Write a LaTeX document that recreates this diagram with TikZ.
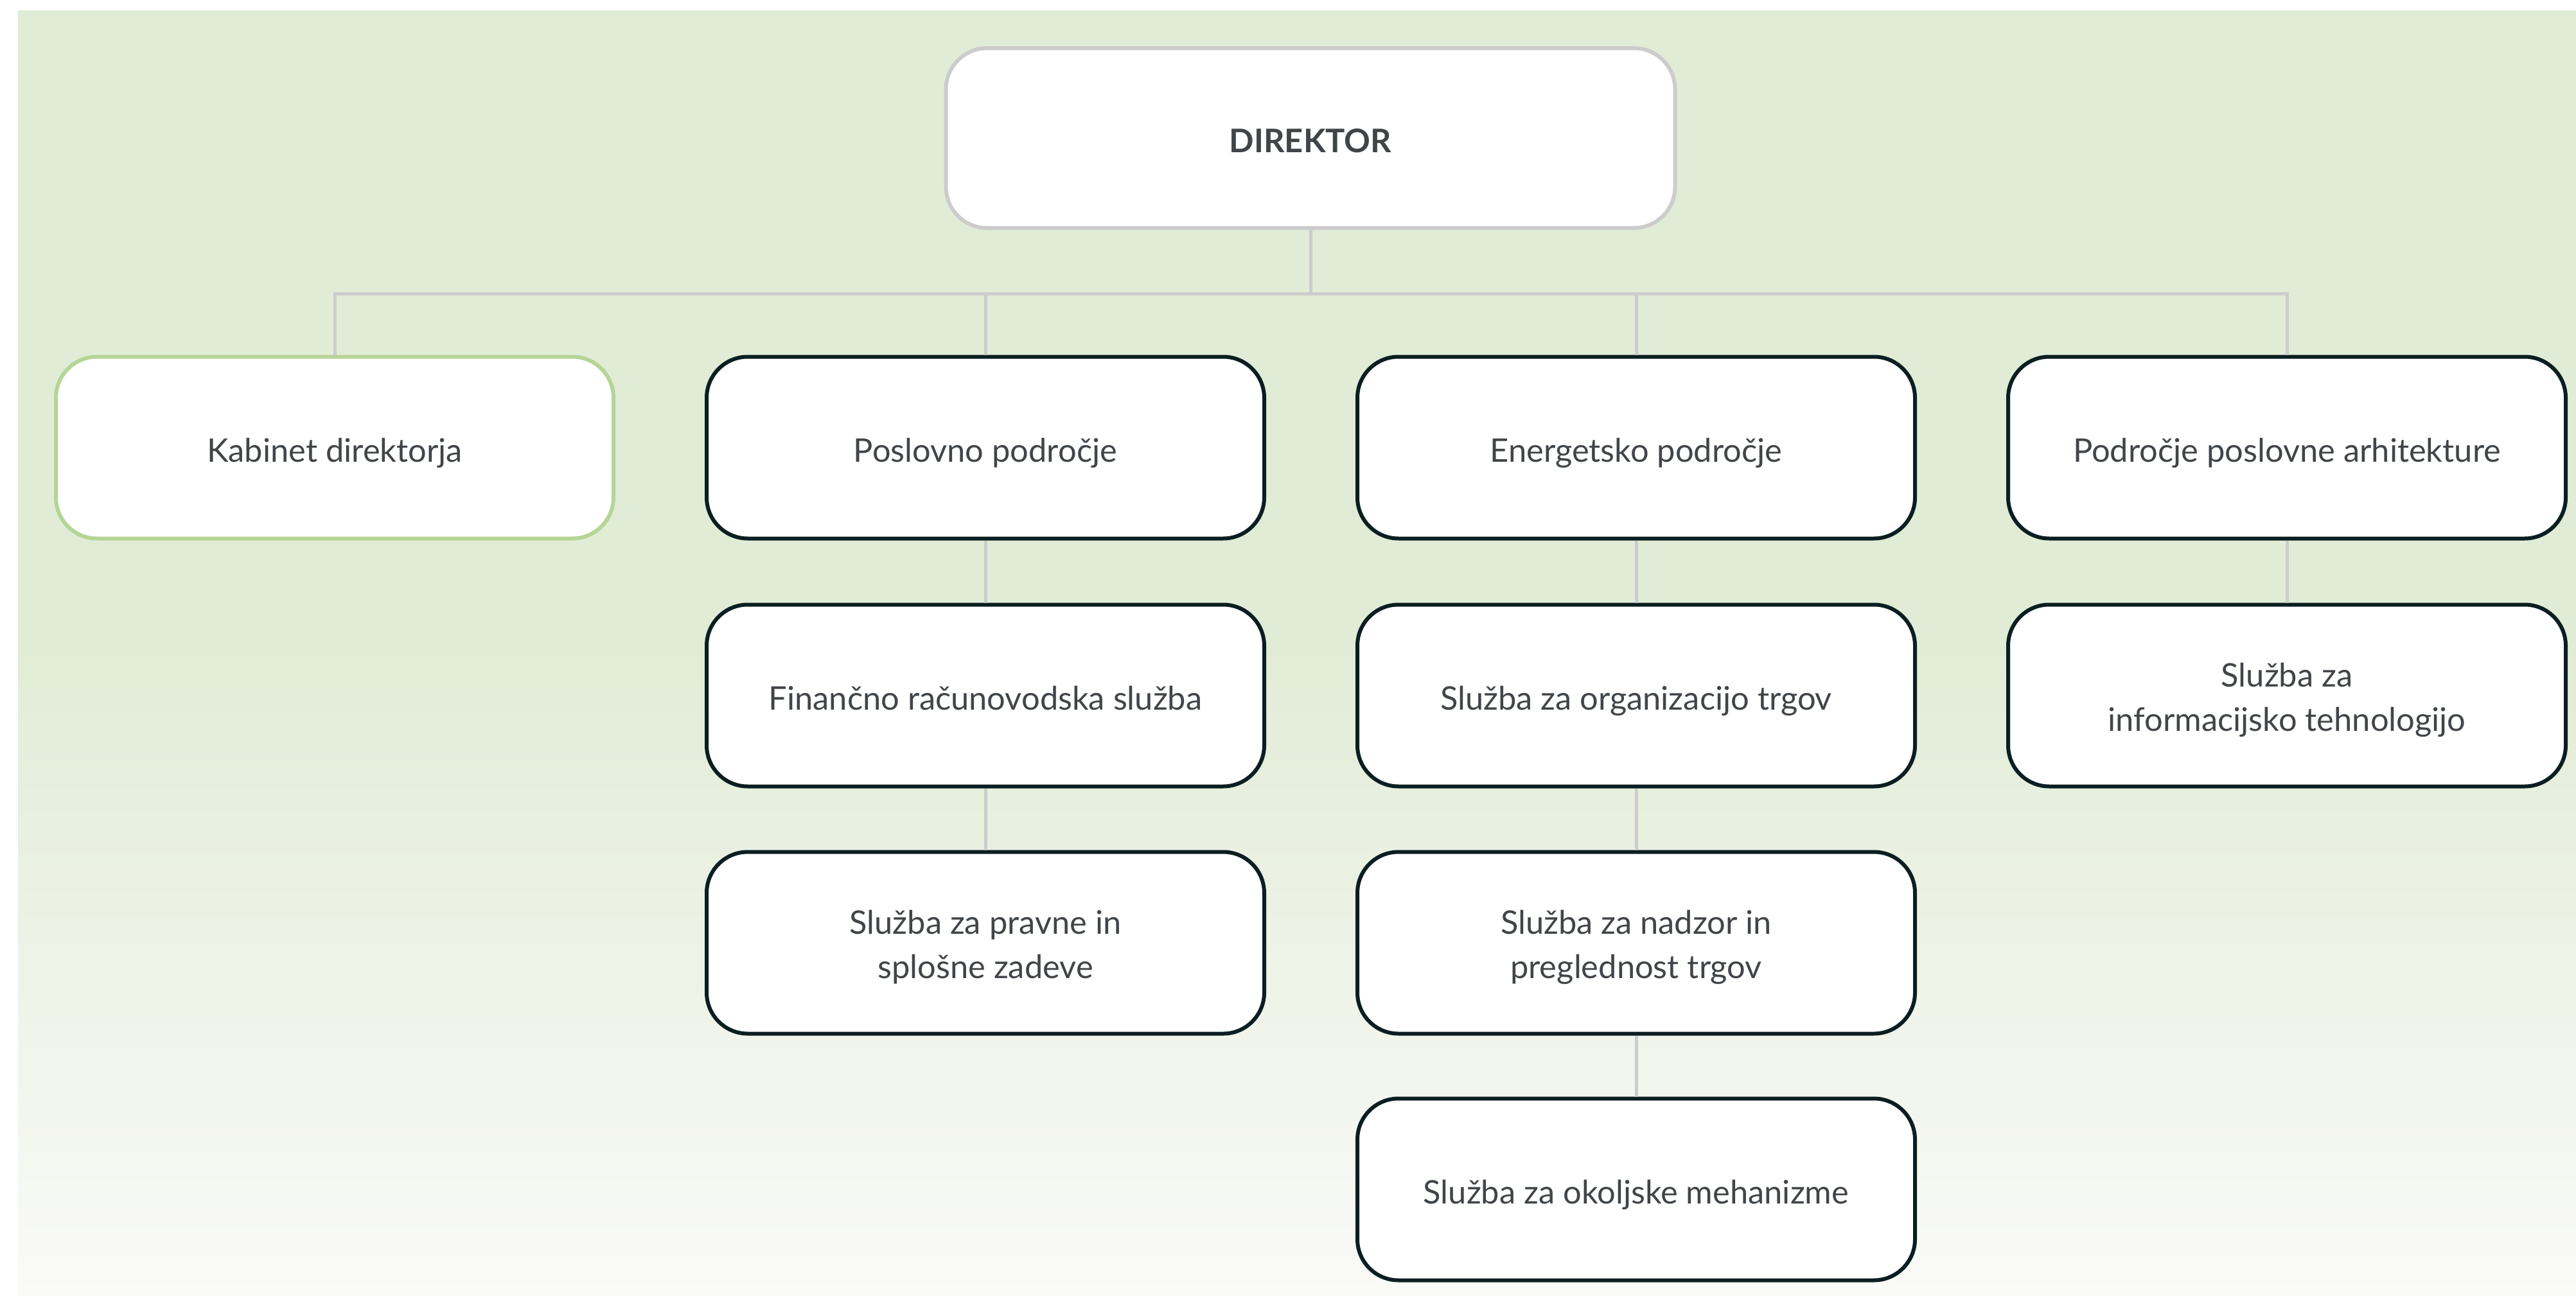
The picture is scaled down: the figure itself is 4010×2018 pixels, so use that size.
\documentclass[tikz,border=0pt]{standalone}
\usepackage{fontspec}
\setmainfont{Lato}
\definecolor{bgtop}{HTML}{E1ECD6}
\definecolor{bgbot}{HTML}{FAFAF8}
\definecolor{linegray}{HTML}{CCCCCC}
\definecolor{boxdark}{HTML}{0B1E22}
\definecolor{kabgreen}{HTML}{B5D596}
\definecolor{txt}{HTML}{414549}
\tikzset{
  unitbox/.style={draw=boxdark, line width=3pt, fill=white, rounded corners=32pt,
    minimum width=434pt, minimum height=141.5pt, inner sep=0pt, align=center,
    text=txt, font=\fontsize{25.3}{34.5}\selectfont, oneline},
  oneline/.style={text height=22.8pt, text depth=0pt},
  twoline/.style={text height=55.8pt, text depth=0pt},
  dirbox/.style={unitbox, draw=linegray, minimum width=567.5pt, minimum height=140pt,
    font=\fontsize{25.3}{34.5}\selectfont\bfseries},
  kabbox/.style={unitbox, draw=kabgreen},
  conn/.style={draw=linegray, line width=2.5pt}
}
\begin{document}
\begin{tikzpicture}[x=0.5pt,y=-0.5pt]
\useasboundingbox (0,0) rectangle (4010,2018);
\fill[bgtop] (28,16) rectangle (4010,1001);
\shade[top color=bgtop, bottom color=bgbot] (28,1000) rectangle (4010,2018);

\coordinate (bus) at (2040,457);

\node[dirbox] (dir) at (2040,215) {DIREKTOR};

\node[kabbox] (kab) at (521,697) {Kabinet direktorja};
\node[unitbox] (p2) at (1534,697) {Poslovno področje};
\node[unitbox] (p3) at (2547,697) {Energetsko področje};
\node[unitbox] (p4) at (3560,697) {Področje poslovne arhitekture};

\node[unitbox] (f2) at (1534,1083) {Finančno računovodska služba};
\node[unitbox, twoline] (s2) at (1534,1468) {Služba za pravne in\\splošne zadeve};

\node[unitbox] (o3) at (2547,1083) {Služba za organizacijo trgov};
\node[unitbox, twoline] (n3) at (2547,1468) {Služba za nadzor in\\preglednost trgov};
\node[unitbox] (m3) at (2547,1852) {Služba za okoljske mehanizme};

\node[unitbox, twoline] (i4) at (3560,1083) {Služba za\\informacijsko tehnologijo};

\draw[conn] (dir.south) -- (bus);
\draw[conn] (kab.north) |- (bus);
\draw[conn] (p4.north) |- (bus);
\draw[conn] (p2.north) -- (p2.north |- bus);
\draw[conn] (p3.north) -- (p3.north |- bus);

\draw[conn] (p2.south) -- (f2.north);
\draw[conn] (f2.south) -- (s2.north);
\draw[conn] (p3.south) -- (o3.north);
\draw[conn] (o3.south) -- (n3.north);
\draw[conn] (n3.south) -- (m3.north);
\draw[conn] (p4.south) -- (i4.north);
\end{tikzpicture}
\end{document}
